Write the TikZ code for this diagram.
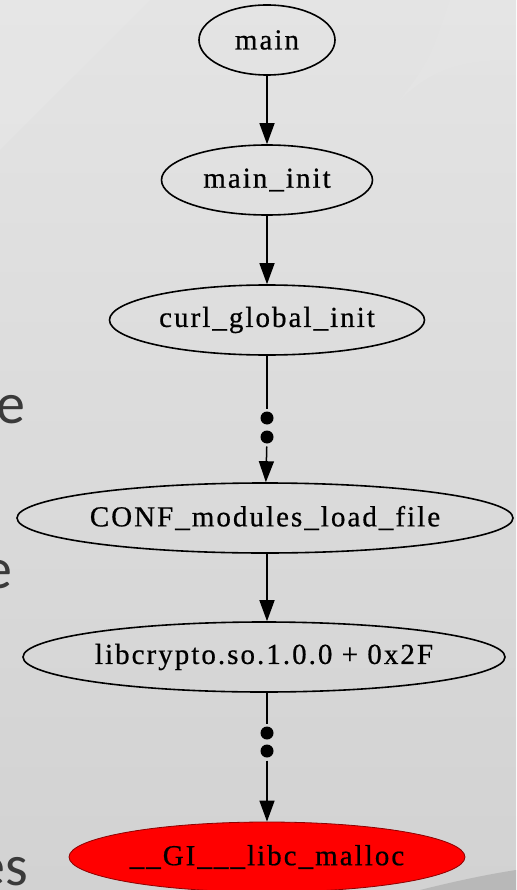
\documentclass[tikz,border=0pt]{standalone}
\usepackage{fontspec}
\setmainfont{Liberation Serif}[LetterSpace=7, FakeBold=0.6]
\newfontfamily\slidefont{Carlito}
\usetikzlibrary{arrows.meta,shapes.geometric}
\definecolor{bgtop}{HTML}{E4E4E4}
\definecolor{bgbot}{HTML}{D2D2D2}
\definecolor{bglight}{HTML}{E9E9E9}
\definecolor{bgdark}{HTML}{B8B8B8}
\definecolor{slidetext}{HTML}{3A3A3A}
\tikzset{
  fn/.style={ellipse, draw=black, line width=1.6pt, inner sep=0pt, minimum height=70pt,
    font=\fontsize{29}{32}\selectfont},
  hot/.style={fn, fill=red, draw=red!55!black, line width=0.8pt},
  calledge/.style={line width=1.5pt, -{Triangle[width=15pt,length=21pt]}},
  plainedge/.style={line width=1.5pt},
  elide/.style={circle, fill=black, inner sep=0pt, minimum size=13pt, outer sep=3pt},
  frag/.style={anchor=base east, inner sep=0pt, text=slidetext, font=\slidefont\fontsize{58}{60}\selectfont}
}
\begin{document}
\begin{tikzpicture}[x=1pt,y=-1pt]
\useasboundingbox (0,0) rectangle (516,890);
% background
\shade[top color=bgtop, bottom color=bgbot] (0,0) rectangle (516,890);
\fill[bglight, opacity=0.45] (0,0) -- (150,0) .. controls (90,60) and (40,110) .. (0,150) -- cycle;
\fill[bglight, opacity=0.3] (450,0) -- (516,0) -- (516,60) .. controls (480,60) and (440,60) .. (400,100) .. controls (430,60) .. (450,0) -- cycle;
\fill[bgdark] (420,890) .. controls (460,880) and (490,874) .. (516,870) -- (516,890) -- cycle;
% left fragments of slide text
\node[frag] (f1) at (26,423) {e};
\node[frag] (f2) at (13,588) {e};
\node[frag] (f3) at (28,885) {es};
% nodes
\node[fn, minimum width=136pt] (main) at (267,40) {\makebox[0pt]{main}};
\node[fn, minimum width=211pt] (init) at (267,180) {\makebox[0pt]{main\_init}};
\node[fn, minimum width=315pt] (curl) at (267,320) {\makebox[0pt]{curl\_global\_init}};
\node[fn, minimum width=496pt] (conf) at (265,518) {\makebox[0pt]{CONF\_modules\_load\_file}};
\node[fn, minimum width=482pt] (lib) at (264,657) {\makebox[0pt]{libcrypto.so.1.0.0 + 0x2F}};
\node[hot, minimum width=396pt] (malloc) at (267,857) {\makebox[0pt]{\_\_GI\_\_\_libc\_malloc}};
% elision dots
\node[elide] (d1) at (267,418) {};
\node[elide] (d2) at (267,437) {};
\node[elide] (d3) at (267,733) {};
\node[elide] (d4) at (267,751) {};
% edges
\draw[calledge] (main) -- (init);
\draw[calledge] (init) -- (curl);
\draw[plainedge] (curl) -- (d1);
\draw[calledge] (d2) -- (conf);
\draw[calledge] (conf.south -| d2) -- (lib.north -| d2);
\draw[plainedge] (lib.south -| d3) -- (d3);
\draw[calledge] (d4) -- (malloc);
\end{tikzpicture}
\end{document}
